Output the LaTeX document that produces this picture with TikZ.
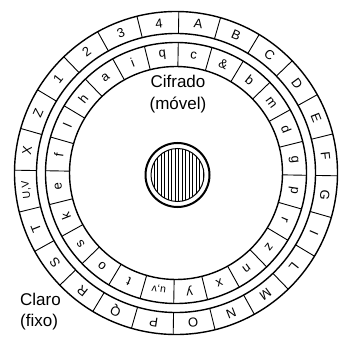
\documentclass[tikz,border=0pt]{standalone}
\usepackage{fontspec}
\setmainfont{Liberation Sans}
\usetikzlibrary{calc}
\begin{document}
\begin{tikzpicture}[x=1pt,y=1pt,
  ringline/.style={line width=1.4pt},
  divline/.style={line width=0.9pt},
  outl/.style={inner sep=0pt, font=\fontsize{13}{13}\selectfont},
  innl/.style={inner sep=0pt, font=\fontsize{13}{13}\selectfont},
  pairl/.style={inner sep=0pt, font=\fontsize{10.5}{10.5}\selectfont},
  lbl/.style={inner sep=0pt, font=\fontsize{17}{17}\selectfont}]
\useasboundingbox (0,0) rectangle (347,-339);
\coordinate (C) at (176,-173);
\begin{scope}[shift={(C)}]
  \draw[ringline] (0,0) circle (161.5);
  \draw[ringline] (0,0) circle (139.5);
  \draw[ringline] (0,0) circle (130.5);
  \draw[ringline] (0,0) circle (106.5);
  \foreach \k in {0,...,23} {
    \draw[divline] ({89+15*\k}:139.5) -- ({89+15*\k}:161.5);
    \draw[divline] ({89+15*\k}:106.5) -- ({89+15*\k}:130.5);
  }
  \foreach \t [count=\i from 0] in {A,B,C,D,E,F,G,I,L,M,N,O,P,Q,R,S,T,,X,Z,1,2,3,4} {
    \node[outl, rotate={81.5-15*\i-90}] (o\i) at ({81.5-15*\i}:150.5) {\t};
  }
  \node[pairl, rotate={81.5-15*17-90}] (uvo) at ({81.5-15*17}:150.5) {U,V};
  \foreach \t [count=\i from 0] in {c,\&,b,m,d,g,p,r,z,n,x,y,,t,o,s,k,e,f,l,h,a,i,q} {
    \node[innl, rotate={81.5-15*\i-90}] (n\i) at ({81.5-15*\i}:118.5) {\t};
  }
  \begin{scope}[shift={(-98.5:118.5)}, rotate=-188.5]
    \node[pairl, rotate=-188.5, anchor=base] (uvu) at (-4.6,-3.8) {u};
    \node[pairl, rotate=-188.5, anchor=base] (uvc) at (0,-3.8) {,};
    \node[pairl, rotate=-188.5, anchor=base] (uvv) at (4.4,-3.8) {v};
  \end{scope}
\end{scope}
\coordinate (H) at (177.5,-175);
\draw[line width=2pt] (H) circle (32);
\begin{scope}
  \clip (H) circle (26.5);
  \foreach \x in {-27,-23.5,...,28} {
    \draw[line width=0.9pt] ($(H)+(\x,-30)$) -- ($(H)+(\x,30)$);
  }
\end{scope}
\draw[line width=1pt] (H) circle (26.5);
\node[lbl, anchor=base] (cif1) at (178,-88) {Cifrado};
\node[lbl, anchor=base] (cif2) at (178,-110) {(móvel)};
\node[lbl, anchor=base west] (cla1) at (20,-305) {Claro};
\node[lbl, anchor=base west] (cla2) at (20,-326) {(fixo)};
\end{tikzpicture}
\end{document}
